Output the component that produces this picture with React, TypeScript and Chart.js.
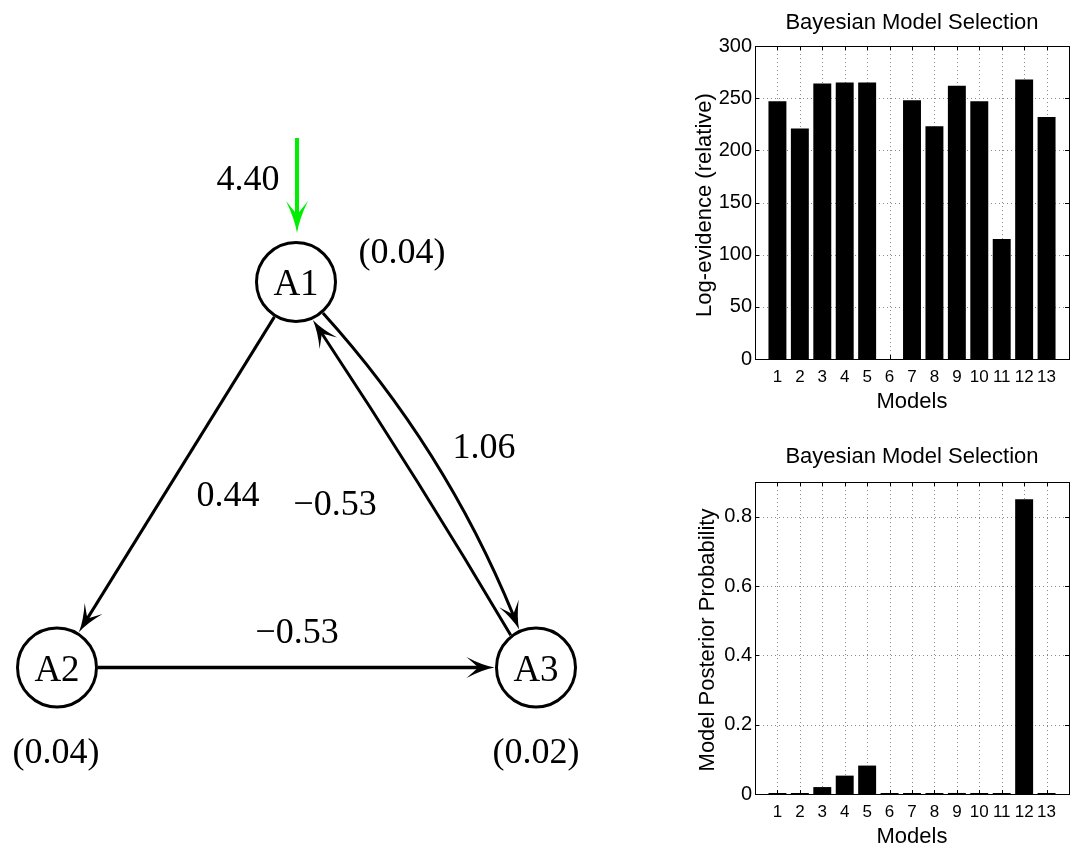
import React, { useEffect, useRef } from "react";
import { Chart, registerables } from "chart.js";

Chart.register(...registerables);

// ---------------- Data ----------------
const modelIds = [1, 2, 3, 4, 5, 6, 7, 8, 9, 10, 11, 12, 13];
const logEvidence = [247, 221, 264, 265, 265, 0, 248, 223, 262, 247, 115, 268, 232];
const posteriorProb = [0.0005, 0.0005, 0.02, 0.053, 0.082, 0.0005, 0.0005, 0.0005, 0.003, 0.0005, 0.0005, 0.85, 0.0005];
const logEvidenceTicks = [0, 50, 100, 150, 200, 250, 300];
const posteriorTicks = [0, 0.2, 0.4, 0.6, 0.8];

const regionNames = ["A1", "A2", "A3"];
const regionValues = [0.04, 0.04, 0.02];
const connectionFrom = [0, 1, 0, 2];
const connectionTo = [1, 2, 2, 0];
const connectionWeights = [0.44, -0.53, 1.06, -0.53];
const inputRegion = 0;
const inputWeight = 4.4;

// ---------------- Layout (diagram geometry, pixels) ----------------
const DIAG_W = 660;
const DIAG_H = 849;
const nodeCenters = [
  { x: 296, y: 282 },
  { x: 57, y: 667.5 },
  { x: 536, y: 667.5 },
];
const NODE_R = 39.5;
const valueLabelPos = [
  { x: 402, y: 263 },
  { x: 56, y: 763 },
  { x: 536, y: 763 },
];
const edgeGeometry = [
  { a0: null, a1: null, bend: 0, lw: 3, lx: 228, ly: 506 },
  { a0: null, a1: null, bend: 0, lw: 3.5, lx: 297, ly: 643 },
  { a0: 49, a1: 246, bend: 34, lw: 3, lx: 484, ly: 458 },
  { a0: 232, a1: 66, bend: -5, lw: 3, lx: 335, ly: 515 },
];
const inputGeom = { x: 297, y0: 138, y1: 233, lx: 248, ly: 190 };

const SANS = '"Liberation Sans", Arial, Helvetica, sans-serif';
const SERIF = '"Liberation Serif", "Times New Roman", Times, serif';

const fmtSigned = (v: number) => (v < 0 ? "\u2212" : "") + Math.abs(v).toFixed(2);

function arrowHead(ctx: CanvasRenderingContext2D, x: number, y: number, ang: number, L: number, W: number, color: string) {
  ctx.save();
  ctx.translate(x, y);
  ctx.rotate(ang);
  ctx.beginPath();
  ctx.moveTo(0, 0);
  ctx.quadraticCurveTo(-L * 0.45, W * 0.22, -L, W);
  ctx.quadraticCurveTo(-L * 0.7, W * 0.3, -L * 0.58, 0);
  ctx.quadraticCurveTo(-L * 0.7, -W * 0.3, -L, -W);
  ctx.quadraticCurveTo(-L * 0.45, -W * 0.22, 0, 0);
  ctx.closePath();
  ctx.fillStyle = color;
  ctx.fill();
  ctx.restore();
}

const networkPlugin = {
  id: "network",
  beforeDatasetsDraw(chart: any) {
    const ctx: CanvasRenderingContext2D = chart.ctx;
    const xs = chart.scales.x;
    const ys = chart.scales.y;
    const P = (i: number) => ({ x: xs.getPixelForValue(nodeCenters[i].x), y: ys.getPixelForValue(nodeCenters[i].y) });
    const AL = 28;
    const AW = 10.5;
    ctx.save();
    ctx.strokeStyle = "#000";
    ctx.lineCap = "butt";
    for (let k = 0; k < connectionFrom.length; k++) {
      const A = P(connectionFrom[k]);
      const B = P(connectionTo[k]);
      const g = edgeGeometry[k];
      const direct = Math.atan2(B.y - A.y, B.x - A.x);
      const a0 = g.a0 === null ? direct : (g.a0 * Math.PI) / 180;
      const a1 = g.a1 === null ? direct + Math.PI : (g.a1 * Math.PI) / 180;
      const r0 = NODE_R + 1.5;
      const r1 = NODE_R + 2;
      const S = { x: A.x + r0 * Math.cos(a0), y: A.y + r0 * Math.sin(a0) };
      const T = { x: B.x + r1 * Math.cos(a1), y: B.y + r1 * Math.sin(a1) };
      const dx = T.x - S.x;
      const dy = T.y - S.y;
      const len = Math.hypot(dx, dy);
      const nx = dy / len;
      const ny = -dx / len;
      const C = { x: (S.x + T.x) / 2 + nx * g.bend, y: (S.y + T.y) / 2 + ny * g.bend };
      const te = 1 - (AL * 0.55) / len;
      const P1 = { x: S.x + (C.x - S.x) * te, y: S.y + (C.y - S.y) * te };
      const Q = { x: C.x + (T.x - C.x) * te, y: C.y + (T.y - C.y) * te };
      const P2 = { x: P1.x + (Q.x - P1.x) * te, y: P1.y + (Q.y - P1.y) * te };
      ctx.lineWidth = g.lw;
      ctx.beginPath();
      ctx.moveTo(S.x, S.y);
      ctx.quadraticCurveTo(P1.x, P1.y, P2.x, P2.y);
      ctx.stroke();
      const ang = Math.atan2(T.y - C.y, T.x - C.x);
      arrowHead(ctx, T.x, T.y, ang, AL, AW, "#000");
    }
    // input arrow
    const ix = xs.getPixelForValue(inputGeom.x);
    const iy0 = ys.getPixelForValue(inputGeom.y0);
    const iy1 = ys.getPixelForValue(inputGeom.y1);
    const GL = 32;
    ctx.strokeStyle = "#00ee00";
    ctx.lineWidth = 4;
    ctx.beginPath();
    ctx.moveTo(ix, iy0);
    ctx.lineTo(ix, iy1 - GL * 0.55);
    ctx.stroke();
    arrowHead(ctx, ix, iy1, Math.PI / 2, GL, 11, "#00ee00");
    ctx.restore();
  },
  afterDatasetsDraw(chart: any) {
    const ctx: CanvasRenderingContext2D = chart.ctx;
    const xs = chart.scales.x;
    const ys = chart.scales.y;
    ctx.save();
    ctx.fillStyle = "#000";
    ctx.textAlign = "center";
    ctx.textBaseline = "alphabetic";
    ctx.font = `37px ${SERIF}`;
    regionNames.forEach((n, i) => {
      ctx.fillText(n, xs.getPixelForValue(nodeCenters[i].x), ys.getPixelForValue(nodeCenters[i].y) + 13);
    });
    ctx.font = `36px ${SERIF}`;
    regionValues.forEach((v, i) => {
      ctx.fillText("(" + v.toFixed(2) + ")", xs.getPixelForValue(valueLabelPos[i].x), ys.getPixelForValue(valueLabelPos[i].y));
    });
    connectionWeights.forEach((w, k) => {
      const g = edgeGeometry[k];
      ctx.fillText(fmtSigned(w), xs.getPixelForValue(g.lx), ys.getPixelForValue(g.ly));
    });
    ctx.fillText(inputWeight.toFixed(2), xs.getPixelForValue(inputGeom.lx), ys.getPixelForValue(inputGeom.ly));
    ctx.restore();
  },
};

type BarCfg = {
  values: number[];
  ticks: number[];
  max: number;
  padTop: number;
  xH: number;
  minBar: number;
  yTitle: string;
  titleY: number;
  yTitleX: number;
  yTitleY: number;
  xTitleY: number;
};

function matlabAxesPlugin(cfg: BarCfg) {
  return {
    id: "matlabAxes",
    beforeDatasetsDraw(chart: any) {
      const ctx: CanvasRenderingContext2D = chart.ctx;
      const { left, right, top, bottom } = chart.chartArea;
      const xs = chart.scales.x;
      const ys = chart.scales.y;
      ctx.save();
      ctx.strokeStyle = "#8a8a8a";
      ctx.lineWidth = 1;
      ctx.setLineDash([1, 3]);
      ys.ticks.forEach((t: any, i: number) => {
        const py = Math.round(ys.getPixelForTick(i)) + 0.5;
        if (py > top + 1 && py < bottom - 1) {
          ctx.beginPath();
          ctx.moveTo(left, py);
          ctx.lineTo(right, py);
          ctx.stroke();
        }
      });
      xs.ticks.forEach((t: any, i: number) => {
        const px = Math.round(xs.getPixelForTick(i)) + 0.5;
        ctx.beginPath();
        ctx.moveTo(px, top);
        ctx.lineTo(px, bottom);
        ctx.stroke();
      });
      ctx.restore();
    },
    afterDatasetsDraw(chart: any) {
      const ctx: CanvasRenderingContext2D = chart.ctx;
      const { left, right, top, bottom } = chart.chartArea;
      const xs = chart.scales.x;
      const ys = chart.scales.y;
      ctx.save();
      ctx.strokeStyle = "#000";
      ctx.lineWidth = 1;
      ctx.strokeRect(Math.round(left) + 0.5, Math.round(top) + 0.5, Math.round(right - left), Math.round(bottom - top));
      const tl = 4;
      ctx.beginPath();
      ys.ticks.forEach((t: any, i: number) => {
        const py = Math.round(ys.getPixelForTick(i)) + 0.5;
        ctx.moveTo(left, py);
        ctx.lineTo(left + tl, py);
        ctx.moveTo(right, py);
        ctx.lineTo(right - tl, py);
      });
      xs.ticks.forEach((t: any, i: number) => {
        const px = Math.round(xs.getPixelForTick(i)) + 0.5;
        ctx.moveTo(px, bottom);
        ctx.lineTo(px, bottom - tl);
        ctx.moveTo(px, top);
        ctx.lineTo(px, top + tl);
      });
      ctx.stroke();
      ctx.restore();
    },
    afterDraw(chart: any) {
      const ctx: CanvasRenderingContext2D = chart.ctx;
      const { left, right } = chart.chartArea;
      const cx = (left + right) / 2;
      ctx.save();
      ctx.fillStyle = "#000";
      ctx.textAlign = "center";
      ctx.textBaseline = "alphabetic";
      ctx.font = `22px ${SANS}`;
      ctx.fillText("Bayesian Model Selection", cx, cfg.titleY);
      ctx.fillText("Models", cx, cfg.xTitleY);
      ctx.translate(cfg.yTitleX, cfg.yTitleY);
      ctx.rotate(-Math.PI / 2);
      ctx.fillText(cfg.yTitle, 0, 0);
      ctx.restore();
    },
  };
}

function makeBarChart(canvas: HTMLCanvasElement, cfg: BarCfg) {
  return new Chart(canvas, {
    type: "bar",
    data: {
      datasets: [
        {
          data: modelIds.map((m, i) => ({ x: m, y: cfg.values[i] })),
          backgroundColor: "#000",
          borderWidth: 0,
          barPercentage: 0.8,
          categoryPercentage: 1,
          minBarLength: cfg.minBar,
        } as any,
      ],
    },
    options: {
      animation: false,
      responsive: false,
      events: [],
      layout: { padding: { left: 0, right: 9, top: cfg.padTop, bottom: 0 } },
      plugins: { legend: { display: false }, tooltip: { enabled: false }, title: { display: false } },
      scales: {
        x: {
          type: "linear",
          min: 0,
          max: 14,
          offset: false,
          grid: { display: false, drawTicks: false },
          border: { display: false },
          afterBuildTicks: (s: any) => {
            s.ticks = modelIds.map((v) => ({ value: v }));
          },
          ticks: {
            color: "#000",
            font: { family: SANS, size: 17 },
            padding: 8,
            maxRotation: 0,
            autoSkip: false,
            callback: (v: any) => String(v),
          },
          afterFit: (s: any) => {
            s.height = cfg.xH;
          },
        },
        y: {
          type: "linear",
          min: 0,
          max: cfg.max,
          grid: { display: false, drawTicks: false },
          border: { display: false },
          afterBuildTicks: (s: any) => {
            s.ticks = cfg.ticks.map((v) => ({ value: v }));
          },
          ticks: {
            color: "#000",
            font: { family: SANS, size: 20 },
            padding: 3,
            callback: (v: any) => String(v),
          },
          afterFit: (s: any) => {
            s.width = 75;
          },
        },
      } as any,
    },
    plugins: [matlabAxesPlugin(cfg)],
  });
}

export default function App() {
  const diagRef = useRef<HTMLCanvasElement>(null);
  const topRef = useRef<HTMLCanvasElement>(null);
  const botRef = useRef<HTMLCanvasElement>(null);

  useEffect(() => {
    const charts: Chart[] = [];
    if (diagRef.current) {
      charts.push(
        new Chart(diagRef.current, {
          type: "scatter",
          data: {
            datasets: [
              {
                data: nodeCenters.map((c) => ({ x: c.x, y: c.y })),
                pointRadius: NODE_R,
                pointHoverRadius: NODE_R,
                pointBackgroundColor: "#fff",
                pointBorderColor: "#000",
                pointBorderWidth: 3,
                showLine: false,
                clip: false,
              } as any,
            ],
          },
          options: {
            animation: false,
            responsive: false,
            events: [],
            layout: { padding: 0, autoPadding: false },
            plugins: { legend: { display: false }, tooltip: { enabled: false } },
            scales: {
              x: { type: "linear", min: 0, max: DIAG_W, display: false },
              y: { type: "linear", min: 0, max: DIAG_H, reverse: true, display: false },
            },
          } as any,
          plugins: [networkPlugin],
        })
      );
    }
    if (topRef.current) {
      charts.push(
        makeBarChart(topRef.current, {
          values: logEvidence,
          ticks: logEvidenceTicks,
          max: 300,
          padTop: 46,
          xH: 66,
          minBar: 0,
          yTitle: "Log-evidence (relative)",
          titleY: 29,
          yTitleX: 31,
          yTitleY: 205,
          xTitleY: 408,
        })
      );
    }
    if (botRef.current) {
      charts.push(
        makeBarChart(botRef.current, {
          values: posteriorProb,
          ticks: posteriorTicks,
          max: 0.9,
          padTop: 52,
          xH: 55,
          minBar: 1,
          yTitle: "Model Posterior Probability",
          titleY: 33,
          yTitleX: 34,
          yTitleY: 210,
          xTitleY: 413,
        })
      );
    }
    return () => charts.forEach((c) => c.destroy());
  }, []);

  return (
    <div style={{ position: "absolute", left: 0, top: 0, width: 1078, height: 849, background: "#fff", overflow: "hidden" }}>
      <canvas ref={diagRef} width={DIAG_W} height={DIAG_H} style={{ position: "absolute", left: 0, top: 0 }} />
      <canvas ref={topRef} width={398} height={425} style={{ position: "absolute", left: 680, top: 0 }} />
      <canvas ref={botRef} width={398} height={419} style={{ position: "absolute", left: 680, top: 430 }} />
    </div>
  );
}
